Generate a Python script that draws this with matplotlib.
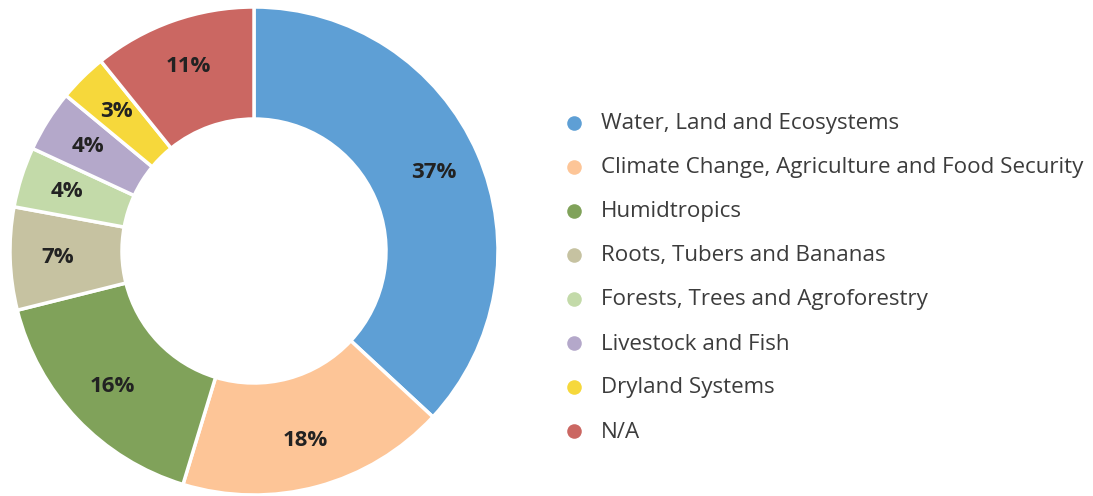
import matplotlib
matplotlib.use("Agg")
import matplotlib.pyplot as plt
import numpy as np

categories = [
    "Water, Land and Ecosystems",
    "Climate Change, Agriculture and Food Security",
    "Humidtropics",
    "Roots, Tubers and Bananas",
    "Forests, Trees and Agroforestry",
    "Livestock and Fish",
    "Dryland Systems",
    "N/A",
]
values = [36.9, 17.8, 16.4, 6.8, 4.0, 4.1, 3.2, 10.8]
labels = ["37%", "18%", "16%", "7%", "4%", "4%", "3%", "11%"]
colors = ["#5e9fd5", "#fdc597", "#80a25a", "#c6c2a1", "#c3daa9", "#b4a8ca", "#f6d83b", "#cb6762"]

W, H = 1093, 496
fig = plt.figure(figsize=(W / 100, H / 100), dpi=100)
ax = fig.add_axes([0, 0, 1, 1])

cx, cy, R = 254, 496 - 251, 244
width = 112
wedges, _ = ax.pie(values, colors=colors, startangle=90, counterclock=False,
                   center=(cx, cy), radius=R, frame=True,
                   wedgeprops=dict(width=width, edgecolor="white", linewidth=2.5))
ax.set_xlim(0, W)
ax.set_ylim(0, H)
ax.set_aspect("equal")
ax.axis("off")

for w, lab in zip(wedges, labels):
    ang = np.deg2rad((w.theta1 + w.theta2) / 2)
    r = 196
    ax.text(cx + r * np.cos(ang), cy + r * np.sin(ang), lab, ha="center", va="center",
            fontsize=16, fontweight="bold", color="#222222", family=["Open Sans", "DejaVu Sans"])

y0 = 496 - 124
for i, (cat, col) in enumerate(zip(categories, colors)):
    y = y0 - i * 44
    ax.scatter([574], [y + 1], s=110, color=col, marker="o", linewidths=0)
    ax.text(601, y, cat, ha="left", va="center", fontsize=16.1, color="#3c3c3c",
            family=["Open Sans", "DejaVu Sans"])

fig.savefig("out.png", dpi=100)
